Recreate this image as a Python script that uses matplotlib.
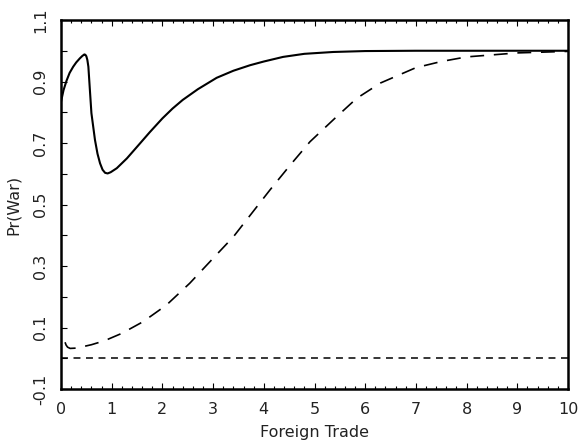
import numpy as np
import matplotlib
matplotlib.use("Agg")
import matplotlib.pyplot as plt
from matplotlib.ticker import FixedLocator, FuncFormatter

plt.rcParams['font.family'] = ['DejaVu Sans']
plt.rcParams['lines.scale_dashes'] = False

# Solid curve
trade_solid = [0, 0.05, 0.11, 0.17, 0.24, 0.3, 0.37, 0.42, 0.46, 0.48, 0.5, 0.52, 0.54,
               0.57, 0.6, 0.67, 0.72, 0.77, 0.82, 0.87, 0.92, 0.98, 1.1, 1.3, 1.56,
               1.75, 2.0, 2.2, 2.4, 2.7, 3.07, 3.4, 3.73, 4.0, 4.38, 4.8, 5.37, 6,
               7, 8, 9, 10]
war_solid = [0.834, 0.872, 0.903, 0.928, 0.948, 0.962, 0.975, 0.983, 0.988, 0.987,
             0.982, 0.97, 0.948, 0.872, 0.797, 0.71, 0.665, 0.634, 0.613, 0.603,
             0.601, 0.605, 0.618, 0.65, 0.699, 0.735, 0.78, 0.812, 0.84, 0.875,
             0.912, 0.935, 0.953, 0.965, 0.98, 0.99, 0.996, 0.999, 1.0, 1.0, 1.0, 1.0]

# Long-dashed curve
trade_dash = [0.08, 0.1, 0.13, 0.18, 0.3, 0.44, 0.6, 0.74, 0.93, 1.2, 1.62, 2.08,
              2.54, 3.0, 3.4, 3.76, 4.12, 4.52, 4.91, 5.4, 5.83, 6.3, 7, 7.5, 8,
              9, 10]
war_dash = [0.052, 0.043, 0.036, 0.032, 0.033, 0.038, 0.044, 0.051, 0.062, 0.081,
            0.119, 0.173, 0.244, 0.325, 0.395, 0.471, 0.547, 0.628, 0.704, 0.78,
            0.845, 0.895, 0.945, 0.965, 0.98, 0.993, 0.998]

# Short-dashed baseline
trade_base = [0, 10]
war_base = [0.0, 0.0]

x_ticks = list(range(0, 11))
y_ticks = [-0.1, 0.0, 0.1, 0.2, 0.3, 0.4, 0.5, 0.6, 0.7, 0.8, 0.9, 1.0, 1.1]
y_labels = {-0.1: "-0.1", 0.1: "0.1", 0.3: "0.3", 0.5: "0.5", 0.7: "0.7",
            0.9: "0.9", 1.1: "1.1"}

fig = plt.figure(figsize=(5.81, 4.46), dpi=100)
ax = fig.add_axes([61 / 581, 57 / 446, 507 / 581, 369 / 446])

ax.plot(trade_solid, war_solid, color='black', lw=1.5)
ax.plot(trade_dash, war_dash, color='black', lw=1.2, dashes=(10, 7))
ax.plot(trade_base, war_base, color='black', lw=1.1, dashes=(5, 4))

ax.set_xlim(0, 10)
ax.set_ylim(-0.1, 1.1)

ax.xaxis.set_major_locator(FixedLocator(x_ticks))
ax.xaxis.set_minor_locator(FixedLocator(np.arange(0, 10.01, 0.2)))
ax.yaxis.set_major_locator(FixedLocator(y_ticks))


def ylab(v, pos):
    return y_labels.get(round(v, 1), "")


ax.yaxis.set_major_formatter(FuncFormatter(ylab))

ax.tick_params(which='both', direction='in', top=True, right=False, width=0.8,
               colors='black', labelcolor='#222222', labelsize=11.5)
ax.tick_params(axis='x', which='major', length=4, pad=9)
ax.tick_params(axis='x', which='minor', length=2.2)
ax.tick_params(axis='y', which='major', length=4, pad=9)
for lab in ax.get_yticklabels():
    lab.set_rotation(90)
    lab.set_va('center')

for s in ax.spines.values():
    s.set_linewidth(1.8)

ax.set_xlabel("Foreign Trade", fontsize=11.5, color='#222222', labelpad=6)
ax.set_ylabel("Pr(War)", fontsize=11.5, color='#222222', labelpad=9)

fig.savefig("out.png", dpi=100)
